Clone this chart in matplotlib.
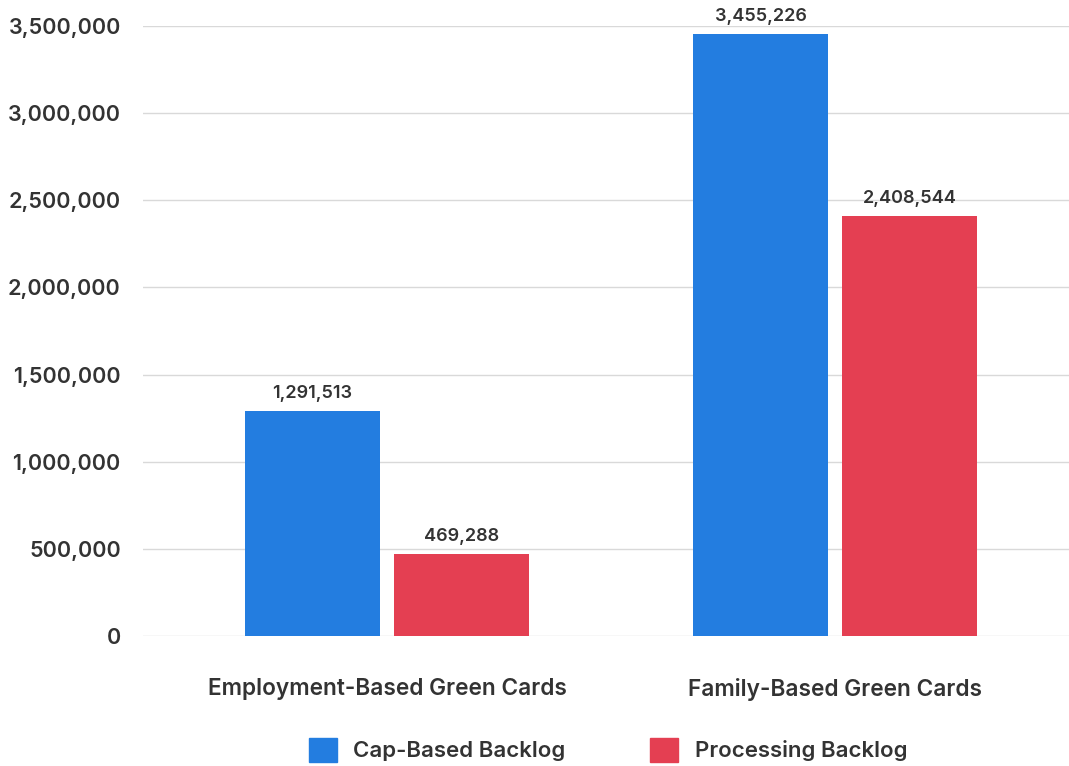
import matplotlib
matplotlib.use("Agg")
import matplotlib.pyplot as plt
from matplotlib.patches import Patch
from matplotlib.ticker import FuncFormatter

categories = ["Employment-Based Green Cards", "Family-Based Green Cards"]
cap_based = [1291513, 3455226]
processing = [469288, 2408544]
series_names = ["Cap-Based Backlog", "Processing Backlog"]
colors = ["#237DE0", "#E43F52"]
text_color = "#333333"

plt.rcParams['font.family'] = ['Inter', 'DejaVu Sans']

fig = plt.figure(figsize=(10.69, 7.66), dpi=100)
ax = fig.add_axes([143/1069, 130/766, 926/1069, 610/766])

x = list(range(len(categories)))
w = 0.3013
off = 0.1663
b1 = ax.bar([i - off for i in x], cap_based, width=w, color=colors[0], zorder=3)
b2 = ax.bar([i + off for i in x], processing, width=w, color=colors[1], zorder=3)

for bars, vals in ((b1, cap_based), (b2, processing)):
    for rect, v in zip(bars, vals):
        ax.annotate(f"{v:,}", (rect.get_x() + rect.get_width()/2, v),
                    xytext=(0, 6.5), textcoords="offset points",
                    ha="center", va="bottom", fontsize=13, fontweight="semibold",
                    color=text_color, zorder=4)

ax.set_xlim(-0.5446, 1.5223)
ax.set_ylim(0, 3500000)
ax.set_yticks(range(0, 3500001, 500000))
ax.yaxis.set_major_formatter(FuncFormatter(lambda v, p: f"{int(v):,}"))
ax.set_xticks(x)
ax.set_xticklabels(categories)
ax.tick_params(axis="both", length=0, labelcolor=text_color)
ax.tick_params(axis="x", pad=30, labelsize=16.3)
ax.tick_params(axis="y", pad=16, labelsize=15.5)
for lab in ax.get_xticklabels() + ax.get_yticklabels():
    lab.set_fontweight("semibold")
ax.grid(axis="y", color="#D9D9D9", linewidth=1, zorder=0)
for s in ax.spines.values():
    s.set_visible(False)

handles = [Patch(color=c, label=n) for c, n in zip(colors, series_names)]
fig.legend(handles=handles, loc="center", bbox_to_anchor=(608/1069, 1 - 750/766),
           ncol=2, frameon=False, handlelength=1.25, handleheight=1.25,
           handletextpad=0.75, columnspacing=3.8, labelcolor=text_color,
           prop={'weight': 'semibold', 'size': 16})

fig.savefig("out.png", dpi=100)
